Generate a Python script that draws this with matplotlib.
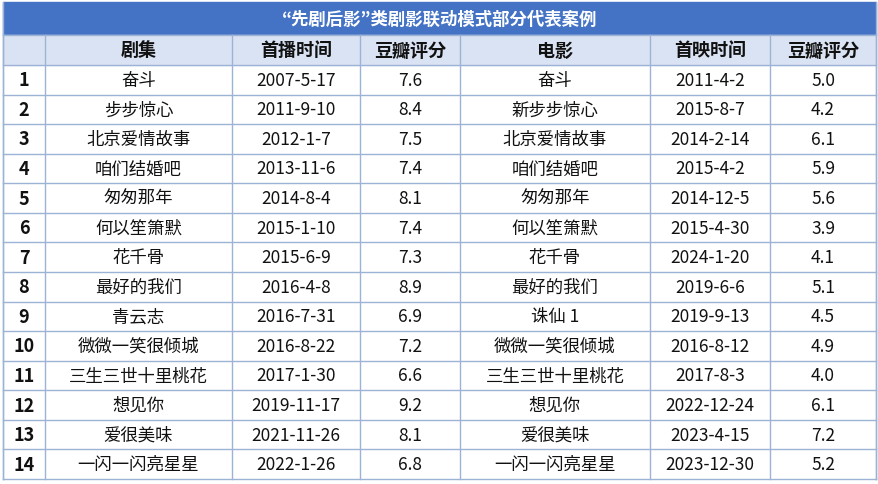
import matplotlib
import matplotlib.pyplot as plt
from matplotlib.patches import Rectangle
from matplotlib import font_manager

title = "“先剧后影”类剧影联动模式部分代表案例"
headers = ["", "剧集", "首播时间", "豆瓣评分", "电影", "首映时间", "豆瓣评分"]
nums = [str(i) for i in range(1, 15)]
dramas = ["奋斗", "步步惊心", "北京爱情故事", "咱们结婚吧", "匆匆那年", "何以笙箫默", "花千骨",
          "最好的我们", "青云志", "微微一笑很倾城", "三生三世十里桃花", "想见你", "爱很美味", "一闪一闪亮星星"]
drama_dates = ["2007-5-17", "2011-9-10", "2012-1-7", "2013-11-6", "2014-8-4", "2015-1-10", "2015-6-9",
               "2016-4-8", "2016-7-31", "2016-8-22", "2017-1-30", "2019-11-17", "2021-11-26", "2022-1-26"]
drama_scores = [7.6, 8.4, 7.5, 7.4, 8.1, 7.4, 7.3, 8.9, 6.9, 7.2, 6.6, 9.2, 8.1, 6.8]
films = ["奋斗", "新步步惊心", "北京爱情故事", "咱们结婚吧", "匆匆那年", "何以笙箫默", "花千骨",
         "最好的我们", "诛仙 1", "微微一笑很倾城", "三生三世十里桃花", "想见你", "爱很美味", "一闪一闪亮星星"]
film_dates = ["2011-4-2", "2015-8-7", "2014-2-14", "2015-4-2", "2014-12-5", "2015-4-30", "2024-1-20",
              "2019-6-6", "2019-9-13", "2016-8-12", "2017-8-3", "2022-12-24", "2023-4-15", "2023-12-30"]
film_scores = [5.0, 4.2, 6.1, 5.9, 5.6, 3.9, 4.1, 5.1, 4.5, 4.9, 4.0, 6.1, 7.2, 5.2]

avail = {f.name for f in font_manager.fontManager.ttflist}
cands = ["Noto Sans CJK SC", "Noto Sans CJK JP", "Noto Sans CJK TC", "Noto Sans CJK KR",
         "Noto Serif CJK SC", "Noto Sans SC"]
cjk = [c for c in cands if c in avail]
if not cjk:
    cjk = [n for n in avail if "CJK" in n]
matplotlib.rcParams['font.family'] = cjk + ["DejaVu Sans"]

W, H = 879, 485
fig = plt.figure(figsize=(W/100, H/100), dpi=100)
ax = fig.add_axes([0, 0, 1, 1])
ax.set_xlim(0, W); ax.set_ylim(H, 0); ax.axis('off')
xs = [3, 45, 232, 360, 460, 650, 770, 876]
grid = "#9db3d6"
y0, y1, y2, yend = 3, 36, 66, 480
ax.add_patch(Rectangle((xs[0], y0), xs[-1]-xs[0], y1-y0, color="#4472c4"))
ax.text((xs[0]+xs[-1])/2, (y0+y1)/2, title, ha='center', va='center', color='white',
        fontsize=12.5, fontweight='bold')
ax.add_patch(Rectangle((xs[0], y1), xs[-1]-xs[0], y2-y1, color="#dae3f3"))
for i, h in enumerate(headers):
    ax.text((xs[i]+xs[i+1])/2, (y1+y2)/2, h, ha='center', va='center', fontsize=13,
            fontweight='bold', color='#111111')
rh = (yend - y2) / len(nums)
for r in range(len(nums)):
    yc = y2 + rh*(r+0.5)
    vals = [nums[r], dramas[r], drama_dates[r], f"{drama_scores[r]:.1f}", films[r], film_dates[r], f"{film_scores[r]:.1f}"]
    for i, v in enumerate(vals):
        ax.text((xs[i]+xs[i+1])/2, yc, v, ha='center', va='center', fontsize=12.5 if i else 13,
                fontweight='bold' if i == 0 else 'normal', color='#111111')
for r in range(len(nums)+1):
    y = y2 + rh*r
    ax.plot([xs[0], xs[-1]], [y, y], color=grid, lw=1)
ax.plot([xs[0], xs[-1]], [y1, y1], color=grid, lw=1)
for x in xs:
    ax.plot([x, x], [y1, yend], color=grid, lw=1)
ax.plot([xs[0], xs[0]], [y0, yend], color=grid, lw=1)
ax.plot([xs[-1], xs[-1]], [y0, yend], color=grid, lw=1)
fig.savefig("out.png", dpi=100, facecolor='white')
